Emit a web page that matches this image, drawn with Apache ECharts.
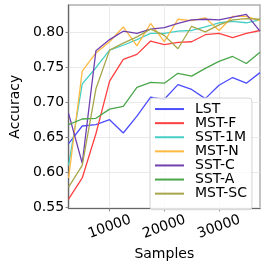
<!DOCTYPE html>
<html>
<head>
<meta charset="utf-8">
<script src="https://cdn.jsdelivr.net/npm/echarts@6/dist/echarts.min.js"></script>
<style>
html,body{margin:0;padding:0;background:#fff;}
#chart{width:266px;height:266px;}
</style>
</head>
<body>
<div id="chart"></div>
<script>
const samples = [2500, 5000, 7500, 10000, 12500, 15000, 17500, 20000, 22500, 25000, 27500, 30000, 32500, 35000, 37500];
const lst   = [0.641, 0.666, 0.668, 0.675, 0.656, 0.680, 0.707, 0.704, 0.725, 0.718, 0.705, 0.724, 0.735, 0.727, 0.742];
const mstF  = [0.562, 0.592, 0.655, 0.730, 0.761, 0.768, 0.787, 0.782, 0.785, 0.786, 0.796, 0.798, 0.792, 0.798, 0.802];
const sst1M = [0.610, 0.726, 0.749, 0.774, 0.781, 0.789, 0.798, 0.798, 0.801, 0.802, 0.807, 0.813, 0.815, 0.813, 0.817];
const mstN  = [0.592, 0.744, 0.770, 0.786, 0.807, 0.780, 0.812, 0.786, 0.818, 0.816, 0.820, 0.802, 0.822, 0.822, 0.816];
const sstC  = [0.684, 0.613, 0.773, 0.789, 0.801, 0.798, 0.804, 0.806, 0.812, 0.817, 0.818, 0.817, 0.821, 0.825, 0.801];
const sstA  = [0.668, 0.676, 0.677, 0.690, 0.694, 0.721, 0.728, 0.727, 0.741, 0.737, 0.748, 0.758, 0.765, 0.755, 0.771];
const mstSC = [0.579, 0.610, 0.719, 0.774, 0.784, 0.793, 0.804, 0.795, 0.776, 0.808, 0.800, 0.810, 0.817, 0.819, 0.818];

const seriesNames = ['LST', 'MST-F', 'SST-1M', 'MST-N', 'SST-C', 'SST-A', 'MST-SC'];
const seriesValues = [lst, mstF, sst1M, mstN, sstC, sstA, mstSC];
const colors = ['#4d4dff', '#ff4040', '#45cfc6', '#ffb840', '#7040b0', '#4aa64a', '#a6a64a'];

const xTicks = [10000, 20000, 30000];
const yTicks = [0.55, 0.60, 0.65, 0.70, 0.75, 0.80];

const FONT = 'DejaVu Sans';
const FS = 14;

const chart = echarts.init(document.getElementById('chart'), null, {renderer: 'canvas'});

const series = seriesNames.map((name, i) => ({
  name: name,
  type: 'line',
  data: samples.map((s, j) => [s, seriesValues[i][j]]),
  showSymbol: false,
  symbol: 'none',
  lineStyle: {color: colors[i], width: 1.3},
  itemStyle: {color: colors[i]},
  animation: false,
  z: 3
}));

chart.setOption({
  animation: false,
  grid: {left: 54, right: 6, top: 5, bottom: 52, show: true, borderColor: '#b0b0b0', borderWidth: 1.5},
  xAxis: {
    type: 'value',
    min: 2500,
    max: 37500,
    name: 'Samples',
    nameLocation: 'middle',
    nameGap: 30,
    nameTextStyle: {fontFamily: FONT, fontSize: FS, color: '#000'},
    axisLine: {show: true, lineStyle: {color: '#666', width: 1.2}},
    axisTick: {show: true, length: 3, lineStyle: {color: '#888'}, customValues: xTicks},
    axisLabel: {customValues: xTicks, rotate: 20, align: 'center', verticalAlign: 'middle', margin: 18.5,
      fontFamily: FONT, fontSize: FS, color: '#000', formatter: v => String(v)},
    splitLine: {show: true, lineStyle: {color: '#e4e4e4', width: 0.8}}
  },
  yAxis: {
    type: 'value',
    min: 0.5487,
    max: 0.8383,
    name: 'Accuracy',
    nameLocation: 'middle',
    nameGap: 42,
    nameRotate: 90,
    nameTextStyle: {fontFamily: FONT, fontSize: FS, color: '#000'},
    axisLine: {show: true, lineStyle: {color: '#666', width: 1.2}},
    axisTick: {show: true, length: 3, lineStyle: {color: '#888'}, customValues: yTicks},
    axisLabel: {customValues: yTicks, margin: 4.5, fontFamily: FONT, fontSize: FS, color: '#000',
      formatter: v => Number(v).toFixed(2)},
    splitLine: {show: true, lineStyle: {color: '#e4e4e4', width: 0.8}}
  },
  legend: {
    orient: 'vertical',
    left: 150,
    top: 98,
    data: seriesNames.map(n => ({name: n, icon: 'rect'})),
    itemWidth: 29,
    itemHeight: 2,
    itemGap: 0,
    padding: [4, 5, 9, 5],
    backgroundColor: 'rgba(255,255,255,0.8)',
    borderColor: '#d4d4d4',
    borderWidth: 1,
    borderRadius: 3,
    textStyle: {fontFamily: FONT, fontSize: FS, color: '#000', lineHeight: 14.1, padding: [0, 0, 0, 6]}
  },
  series: series
});
</script>
</body>
</html>
